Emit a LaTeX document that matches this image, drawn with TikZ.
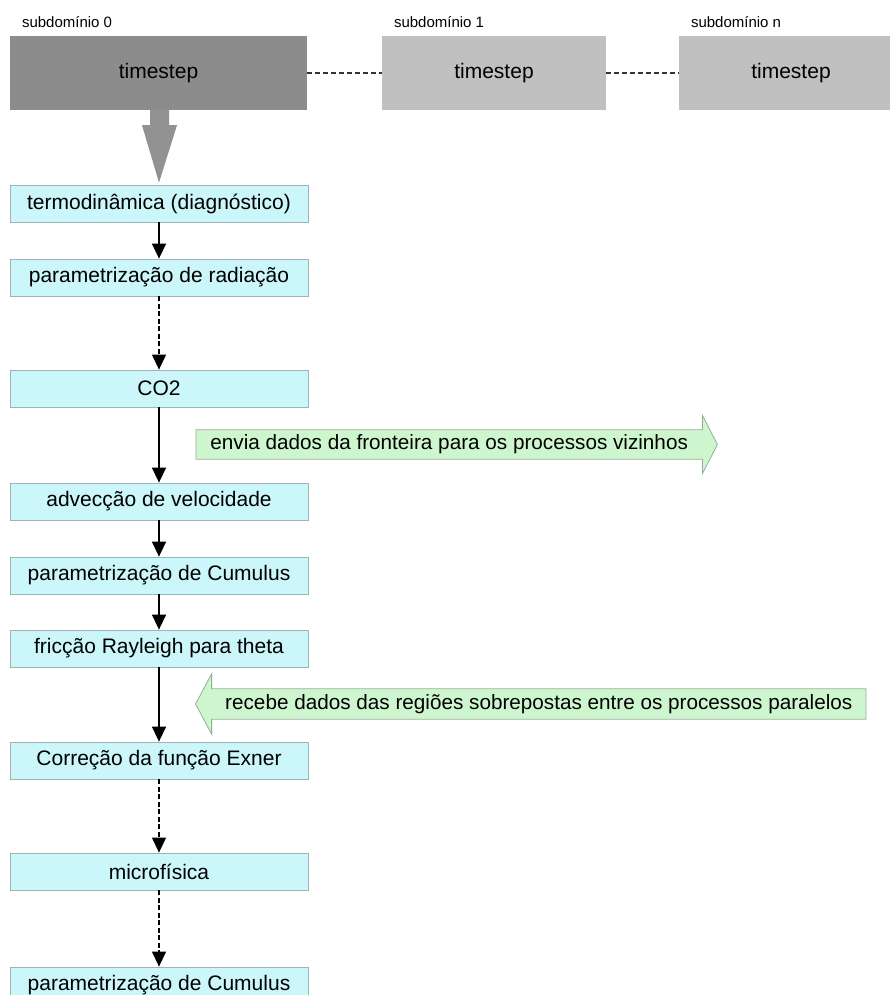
\documentclass[tikz,border=0pt]{standalone}
\usepackage{fontspec}
\setmainfont{Liberation Sans}
\usetikzlibrary{arrows.meta,calc}
\definecolor{procfill}{RGB}{204,247,250}
\definecolor{procline}{RGB}{160,178,182}
\definecolor{msgfill}{RGB}{206,246,206}
\definecolor{msgline}{RGB}{150,172,150}
\definecolor{darkbox}{RGB}{140,140,140}
\definecolor{lightbox}{RGB}{192,192,192}
\tikzstyle{subbox}=[rectangle,minimum width=224pt,minimum height=74pt,inner sep=0pt,font=\fontsize{21}{25}\selectfont]
\tikzstyle{proc}=[rectangle,draw=procline,fill=procfill,line width=0.8pt,minimum width=298pt,minimum height=37pt,inner sep=0pt,font=\fontsize{21}{25}\selectfont]
\tikzstyle{msg}=[rectangle,fill=msgfill,minimum height=29pt,inner sep=0pt,font=\fontsize{20.7}{24}\selectfont]
\tikzstyle{flow}=[-{Triangle[width=14pt,length=15pt]},line width=1.4pt]
\tikzstyle{skip}=[-{Triangle[width=14pt,length=15pt]},line width=1.2pt,dash pattern=on 5pt off 2.5pt]
\tikzstyle{joinline}=[line width=1.3pt,draw=black!80,dash pattern=on 5pt off 3pt]

\begin{document}
\begin{tikzpicture}[x=1pt,y=-1pt]
  \useasboundingbox (0,0) rectangle (890,995);
  \node[subbox,fill=darkbox,minimum width=297pt] (S-0) at (158.5,73) {timestep};
  \node[subbox,fill=lightbox] (S-1) at (494,73) {timestep};
  \node[subbox,fill=lightbox] (S-n) at (791,73) {timestep};
  \foreach \name in {0,1,n}
    \node[anchor=south west,inner sep=0pt,font=\fontsize{15}{18}\selectfont] (L-\name)
      at ([xshift=12pt,yshift=8pt]S-\name.north west) {subdomínio \name};
  \draw[joinline] (S-0) -- (S-1);
  \draw[joinline] (S-1) -- (S-n);

  \foreach \name/\y/\text in {1/203.5/termodinâmica (diagnóstico), 2/277.5/parametrização de radiação,
                              3/388.5/CO2, 4/501.5/advecção de velocidade,
                              5/575.5/parametrização de Cumulus, 6/648.5/fricção Rayleigh para theta,
                              7/760.5/Correção da função Exner, 8/871.5/microfísica,
                              9/985.5/parametrização de Cumulus}
    \node[proc] (P-\name) at (159,\y) {\text};
  \foreach \from/\to/\kind in {1/2/flow,2/3/skip,3/4/flow,4/5/flow,5/6/flow,6/7/flow,7/8/skip,8/9/skip}
    \draw[\kind] (P-\from) -- (P-\to);

  \fill[darkbox!95] ($(S-0.south)+(-8.5,0)$) -- ++(0,15) -- ++(-8,0) -- ($(P-1.north)+(0,-2)$)
    -- ($(S-0.south)+(18.5,15)$) -- ++(-8,0) -- ++(0,-15) -- cycle;

  \node[msg,minimum width=506pt,anchor=west] (M-send) at (196,444.5)
    {envia dados da fronteira para os processos vizinhos};
  \fill[msgfill] ($(M-send.north east)+(-0.5,-14.5)$) -- ($(M-send.east)+(15,0)$)
    -- ($(M-send.south east)+(-0.5,14.5)$) -- cycle;
  \draw[msgline,line width=0.8pt] (M-send.north west) -- (M-send.north east) -- ++(0,-14.5)
    -- ($(M-send.east)+(15,0)$) -- ($(M-send.south east)+(0,14.5)$) -- (M-send.south east)
    -- (M-send.south west) -- cycle;

  \node[msg,minimum width=654pt,minimum height=30pt,anchor=east] (M-recv) at (866,704)
    {recebe dados das regiões sobrepostas entre os processos paralelos};
  \fill[msgfill] ($(M-recv.north west)+(0.5,-15)$) -- ($(M-recv.west)+(-16,0)$)
    -- ($(M-recv.south west)+(0.5,15)$) -- cycle;
  \draw[msgline,line width=0.8pt] (M-recv.north east) -- (M-recv.north west) -- ++(0,-15)
    -- ($(M-recv.west)+(-16,0)$) -- ($(M-recv.south west)+(0,15)$) -- (M-recv.south west)
    -- (M-recv.south east) -- cycle;
\end{tikzpicture}
\end{document}
